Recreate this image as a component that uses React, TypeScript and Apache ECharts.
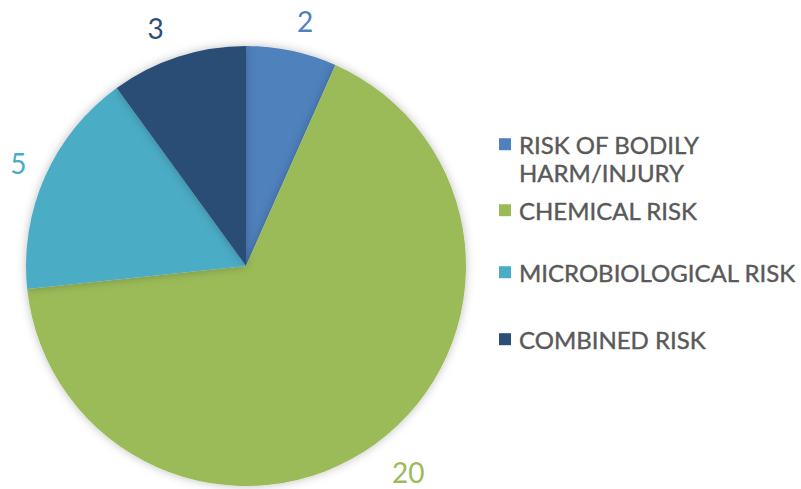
import React, { useEffect, useRef } from "react";
import * as echarts from "echarts";

const categories = ["RISK OF BODILY HARM/INJURY", "CHEMICAL RISK", "MICROBIOLOGICAL RISK", "COMBINED RISK"];
const legendLines = [["RISK OF BODILY", "HARM/INJURY"], ["CHEMICAL RISK"], ["MICROBIOLOGICAL RISK"], ["COMBINED RISK"]];
const values = [2, 20, 5, 3];
const colors = ["#4F81BD", "#9BBB59", "#4BACC6", "#2C4D75"];
const legendTops = [132, 198, 260, 327];
const labelOffsets = [[-6, 0], [-6, 4], [14, -1], [0, 0]];

export default function App() {
  const ref = useRef<HTMLDivElement>(null);
  useEffect(() => {
    document.body.style.margin = "0";
    const chart = echarts.init(ref.current!, null, { renderer: "svg" });
    const legends = categories.map((name, i) => {
      const lines = legendLines[i];
      let fmt = `{sq${i}|}{t|${lines[0]}}`;
      for (let k = 1; k < lines.length; k++) fmt += `\n{t2|${lines[k]}}`;
      const rich: any = {
        t: { fontFamily: "Lato", fontSize: 24, color: "#595959", lineHeight: 28, padding: [0, 0, 0, 8], textBorderColor: "#595959", textBorderWidth: 0.4 },
        t2: { fontFamily: "Lato", fontSize: 24, color: "#595959", lineHeight: 28, padding: [0, 0, 0, 20], textBorderColor: "#595959", textBorderWidth: 0.4 },
      };
      rich["sq" + i] = { width: 12, height: 12, backgroundColor: colors[i] };
      return {
        data: [name],
        left: 494,
        top: legendTops[i],
        orient: "vertical",
        icon: "rect",
        itemWidth: 0,
        itemHeight: 0,
        selectedMode: false,
        padding: 0,
        formatter: () => fmt,
        textStyle: { rich, fontFamily: "Lato", fontSize: 24, color: "#595959" },
      };
    });
    chart.setOption({
      animation: false,
      color: colors,
      legend: legends,
      series: [
        {
          type: "pie",
          center: [246, 266],
          radius: 220,
          startAngle: 90,
          clockwise: true,
          avoidLabelOverlap: false,
          data: categories.map((name, i) => ({
            name,
            value: values[i],
            label: { offset: labelOffsets[i] },
          })),
          itemStyle: { shadowBlur: 10, shadowColor: "rgba(0,0,0,0.25)" },
          label: {
            show: true,
            position: "outside",
            formatter: "{c}",
            fontFamily: "Lato",
            fontSize: 28,
            color: "inherit",
          },
          labelLine: { show: false, length: 30, length2: 0 },
          emphasis: { disabled: true },
        },
      ],
    });
    return () => chart.dispose();
  }, []);
  return <div ref={ref} style={{ width: 801, height: 489 }} />;
}
